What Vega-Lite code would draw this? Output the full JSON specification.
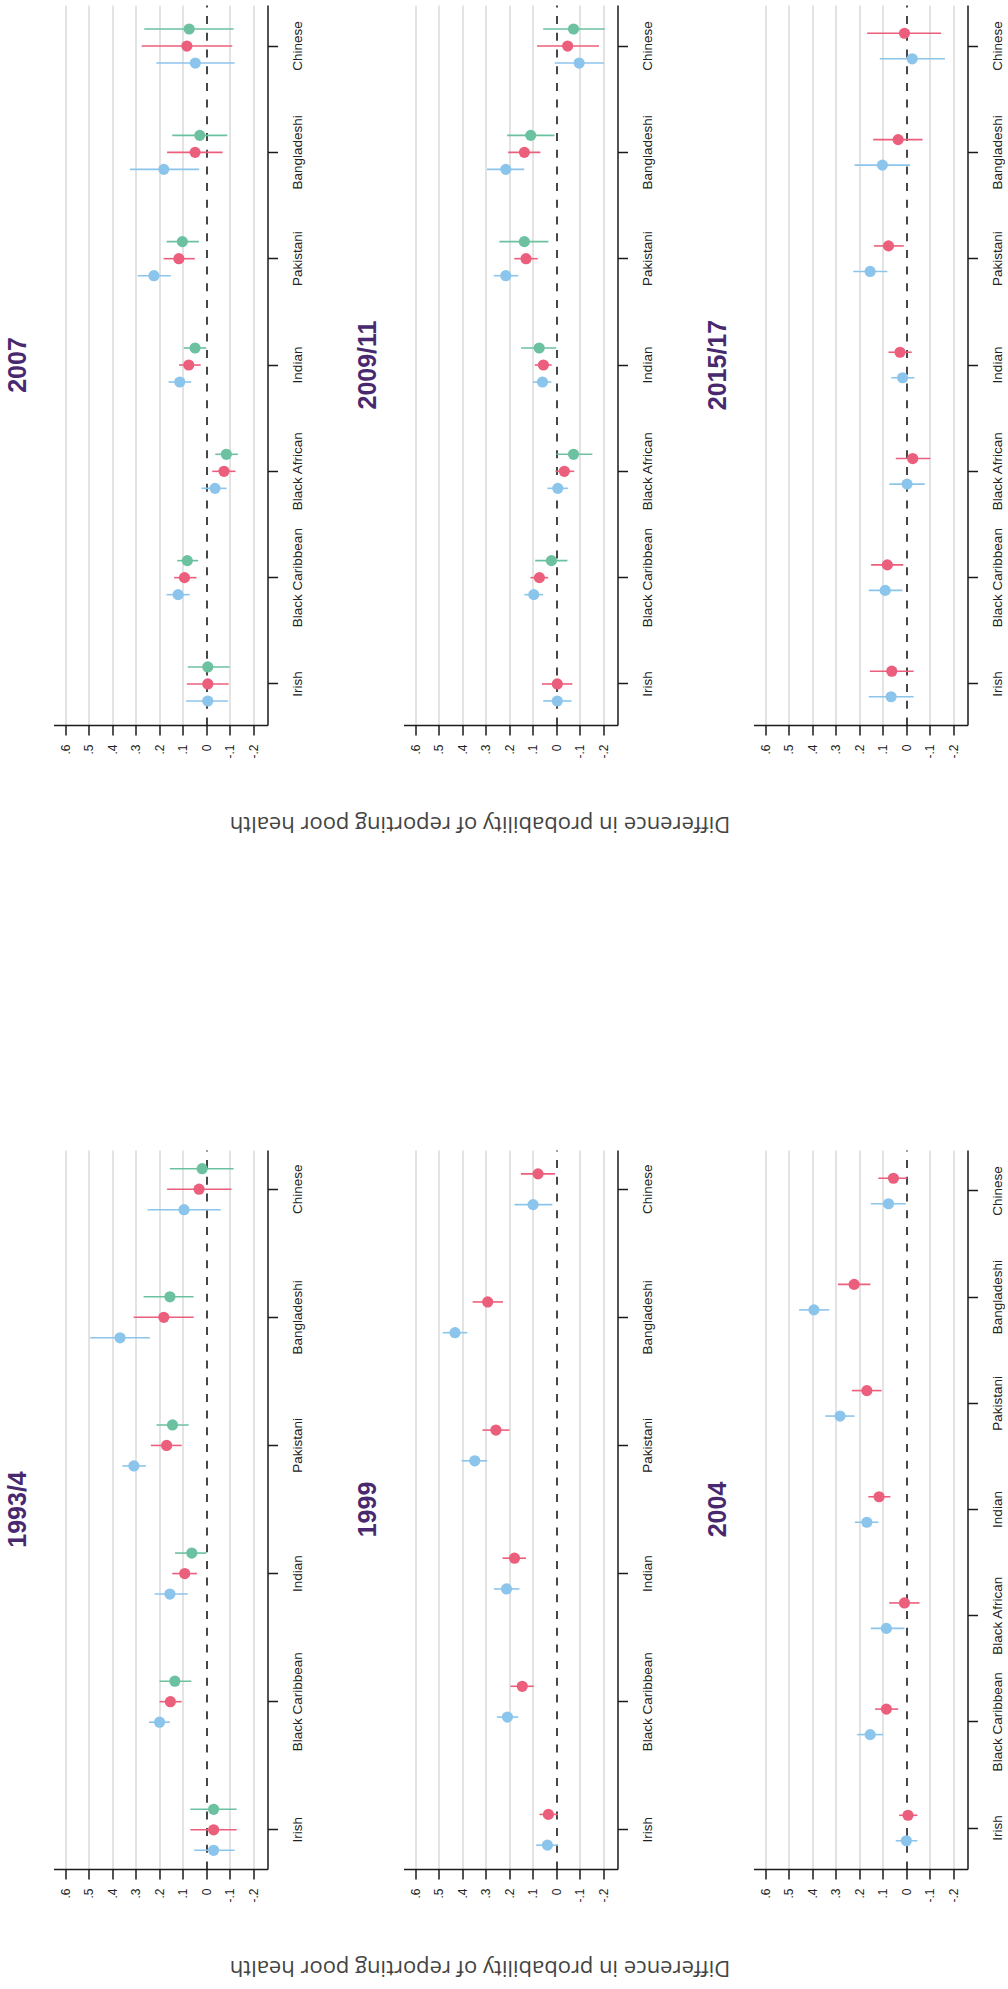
{
  "$schema": "https://vega.github.io/schema/vega-lite/v6.json",
  "padding": {"left": 5.5, "top": 5, "right": 0, "bottom": 9},
  "config": {
    "view": {"stroke": null},
    "font": "Liberation Sans",
    "axis": {"domainColor": "#1a1a1a", "domainWidth": 1.5, "tickColor": "#1a1a1a", "tickWidth": 1.5, "tickSize": 10, "labelFont": "Liberation Sans", "labelColor": "#222222"},
    "title": {"orient": "left", "anchor": "middle", "angle": 270, "baseline": "alphabetic", "offset": 22.5, "fontSize": 25, "fontWeight": "bold", "font": "Liberation Sans", "color": "#48296f"}
  },
  "datasets": {
    "est": [
      {"year": "1993/4", "group": "Chinese", "model": "Model 3", "est": 0.018, "lo": -0.116, "hi": 0.155},
      {"year": "1993/4", "group": "Chinese", "model": "Model 2", "est": 0.031, "lo": -0.107, "hi": 0.167},
      {"year": "1993/4", "group": "Chinese", "model": "Model 1", "est": 0.095, "lo": -0.061, "hi": 0.25},
      {"year": "1993/4", "group": "Bangladeshi", "model": "Model 3", "est": 0.155, "lo": 0.054, "hi": 0.267},
      {"year": "1993/4", "group": "Bangladeshi", "model": "Model 2", "est": 0.181, "lo": 0.054, "hi": 0.309},
      {"year": "1993/4", "group": "Bangladeshi", "model": "Model 1", "est": 0.367, "lo": 0.24, "hi": 0.494},
      {"year": "1993/4", "group": "Pakistani", "model": "Model 3", "est": 0.144, "lo": 0.075, "hi": 0.212},
      {"year": "1993/4", "group": "Pakistani", "model": "Model 2", "est": 0.169, "lo": 0.105, "hi": 0.236},
      {"year": "1993/4", "group": "Pakistani", "model": "Model 1", "est": 0.308, "lo": 0.257, "hi": 0.357},
      {"year": "1993/4", "group": "Indian", "model": "Model 3", "est": 0.062, "lo": 0.0, "hi": 0.133},
      {"year": "1993/4", "group": "Indian", "model": "Model 2", "est": 0.092, "lo": 0.04, "hi": 0.145},
      {"year": "1993/4", "group": "Indian", "model": "Model 1", "est": 0.155, "lo": 0.079, "hi": 0.22},
      {"year": "1993/4", "group": "Black Caribbean", "model": "Model 3", "est": 0.134, "lo": 0.064, "hi": 0.199},
      {"year": "1993/4", "group": "Black Caribbean", "model": "Model 2", "est": 0.153, "lo": 0.105, "hi": 0.199},
      {"year": "1993/4", "group": "Black Caribbean", "model": "Model 1", "est": 0.199, "lo": 0.155, "hi": 0.244},
      {"year": "1993/4", "group": "Irish", "model": "Model 3", "est": -0.031, "lo": -0.129, "hi": 0.068},
      {"year": "1993/4", "group": "Irish", "model": "Model 2", "est": -0.031, "lo": -0.129, "hi": 0.068},
      {"year": "1993/4", "group": "Irish", "model": "Model 1", "est": -0.031, "lo": -0.12, "hi": 0.052},

      {"year": "1999", "group": "Chinese", "model": "Model 2", "est": 0.078, "lo": 0.006, "hi": 0.151},
      {"year": "1999", "group": "Chinese", "model": "Model 1", "est": 0.099, "lo": 0.017, "hi": 0.178},
      {"year": "1999", "group": "Bangladeshi", "model": "Model 2", "est": 0.292, "lo": 0.227, "hi": 0.356},
      {"year": "1999", "group": "Bangladeshi", "model": "Model 1", "est": 0.431, "lo": 0.379, "hi": 0.483},
      {"year": "1999", "group": "Pakistani", "model": "Model 2", "est": 0.257, "lo": 0.199, "hi": 0.314},
      {"year": "1999", "group": "Pakistani", "model": "Model 1", "est": 0.347, "lo": 0.294, "hi": 0.403},
      {"year": "1999", "group": "Indian", "model": "Model 2", "est": 0.178, "lo": 0.129, "hi": 0.229},
      {"year": "1999", "group": "Indian", "model": "Model 1", "est": 0.212, "lo": 0.157, "hi": 0.266},
      {"year": "1999", "group": "Black Caribbean", "model": "Model 2", "est": 0.145, "lo": 0.096, "hi": 0.195},
      {"year": "1999", "group": "Black Caribbean", "model": "Model 1", "est": 0.208, "lo": 0.162, "hi": 0.253},
      {"year": "1999", "group": "Irish", "model": "Model 2", "est": 0.034, "lo": -0.007, "hi": 0.072},
      {"year": "1999", "group": "Irish", "model": "Model 1", "est": 0.038, "lo": -0.007, "hi": 0.086},

      {"year": "2004", "group": "Chinese", "model": "Model 2", "est": 0.055, "lo": -0.004, "hi": 0.119},
      {"year": "2004", "group": "Chinese", "model": "Model 1", "est": 0.076, "lo": 0.003, "hi": 0.151},
      {"year": "2004", "group": "Bangladeshi", "model": "Model 2", "est": 0.222, "lo": 0.153, "hi": 0.291},
      {"year": "2004", "group": "Bangladeshi", "model": "Model 1", "est": 0.393, "lo": 0.328, "hi": 0.456},
      {"year": "2004", "group": "Pakistani", "model": "Model 2", "est": 0.168, "lo": 0.105, "hi": 0.232},
      {"year": "2004", "group": "Pakistani", "model": "Model 1", "est": 0.282, "lo": 0.22, "hi": 0.345},
      {"year": "2004", "group": "Indian", "model": "Model 2", "est": 0.116, "lo": 0.068, "hi": 0.162},
      {"year": "2004", "group": "Indian", "model": "Model 1", "est": 0.168, "lo": 0.119, "hi": 0.219},
      {"year": "2004", "group": "Black African", "model": "Model 2", "est": 0.008, "lo": -0.056, "hi": 0.073},
      {"year": "2004", "group": "Black African", "model": "Model 1", "est": 0.085, "lo": 0.008, "hi": 0.151},
      {"year": "2004", "group": "Black Caribbean", "model": "Model 2", "est": 0.085, "lo": 0.035, "hi": 0.133},
      {"year": "2004", "group": "Black Caribbean", "model": "Model 1", "est": 0.154, "lo": 0.099, "hi": 0.209},
      {"year": "2004", "group": "Irish", "model": "Model 2", "est": -0.007, "lo": -0.047, "hi": 0.031},
      {"year": "2004", "group": "Irish", "model": "Model 1", "est": 0.0, "lo": -0.047, "hi": 0.045},

      {"year": "2007", "group": "Chinese", "model": "Model 3", "est": 0.073, "lo": -0.116, "hi": 0.264},
      {"year": "2007", "group": "Chinese", "model": "Model 2", "est": 0.083, "lo": -0.11, "hi": 0.275},
      {"year": "2007", "group": "Chinese", "model": "Model 1", "est": 0.047, "lo": -0.12, "hi": 0.213},
      {"year": "2007", "group": "Bangladeshi", "model": "Model 3", "est": 0.028, "lo": -0.089, "hi": 0.145},
      {"year": "2007", "group": "Bangladeshi", "model": "Model 2", "est": 0.048, "lo": -0.069, "hi": 0.167},
      {"year": "2007", "group": "Bangladeshi", "model": "Model 1", "est": 0.181, "lo": 0.031, "hi": 0.325},
      {"year": "2007", "group": "Pakistani", "model": "Model 3", "est": 0.102, "lo": 0.032, "hi": 0.169},
      {"year": "2007", "group": "Pakistani", "model": "Model 2", "est": 0.117, "lo": 0.049, "hi": 0.182},
      {"year": "2007", "group": "Pakistani", "model": "Model 1", "est": 0.223, "lo": 0.151, "hi": 0.292},
      {"year": "2007", "group": "Indian", "model": "Model 3", "est": 0.048, "lo": 0.0, "hi": 0.096},
      {"year": "2007", "group": "Indian", "model": "Model 2", "est": 0.075, "lo": 0.024, "hi": 0.116},
      {"year": "2007", "group": "Indian", "model": "Model 1", "est": 0.113, "lo": 0.064, "hi": 0.161},
      {"year": "2007", "group": "Black African", "model": "Model 3", "est": -0.085, "lo": -0.134, "hi": -0.038},
      {"year": "2007", "group": "Black African", "model": "Model 2", "est": -0.075, "lo": -0.124, "hi": -0.025},
      {"year": "2007", "group": "Black African", "model": "Model 1", "est": -0.037, "lo": -0.086, "hi": 0.021},
      {"year": "2007", "group": "Black Caribbean", "model": "Model 3", "est": 0.081, "lo": 0.035, "hi": 0.124},
      {"year": "2007", "group": "Black Caribbean", "model": "Model 2", "est": 0.093, "lo": 0.042, "hi": 0.137},
      {"year": "2007", "group": "Black Caribbean", "model": "Model 1", "est": 0.12, "lo": 0.071, "hi": 0.169},
      {"year": "2007", "group": "Irish", "model": "Model 3", "est": -0.006, "lo": -0.099, "hi": 0.079},
      {"year": "2007", "group": "Irish", "model": "Model 2", "est": -0.006, "lo": -0.095, "hi": 0.083},
      {"year": "2007", "group": "Irish", "model": "Model 1", "est": -0.006, "lo": -0.092, "hi": 0.086},

      {"year": "2009/11", "group": "Chinese", "model": "Model 3", "est": -0.073, "lo": -0.206, "hi": 0.056},
      {"year": "2009/11", "group": "Chinese", "model": "Model 2", "est": -0.048, "lo": -0.181, "hi": 0.082},
      {"year": "2009/11", "group": "Chinese", "model": "Model 1", "est": -0.097, "lo": -0.202, "hi": 0.007},
      {"year": "2009/11", "group": "Bangladeshi", "model": "Model 3", "est": 0.109, "lo": 0.008, "hi": 0.209},
      {"year": "2009/11", "group": "Bangladeshi", "model": "Model 2", "est": 0.136, "lo": 0.068, "hi": 0.205},
      {"year": "2009/11", "group": "Bangladeshi", "model": "Model 1", "est": 0.215, "lo": 0.137, "hi": 0.295},
      {"year": "2009/11", "group": "Pakistani", "model": "Model 3", "est": 0.136, "lo": 0.034, "hi": 0.242},
      {"year": "2009/11", "group": "Pakistani", "model": "Model 2", "est": 0.129, "lo": 0.079, "hi": 0.179},
      {"year": "2009/11", "group": "Pakistani", "model": "Model 1", "est": 0.215, "lo": 0.162, "hi": 0.266},
      {"year": "2009/11", "group": "Indian", "model": "Model 3", "est": 0.073, "lo": 0.0, "hi": 0.15},
      {"year": "2009/11", "group": "Indian", "model": "Model 2", "est": 0.055, "lo": 0.02, "hi": 0.092},
      {"year": "2009/11", "group": "Indian", "model": "Model 1", "est": 0.059, "lo": 0.021, "hi": 0.1},
      {"year": "2009/11", "group": "Black African", "model": "Model 3", "est": -0.073, "lo": -0.153, "hi": 0.0},
      {"year": "2009/11", "group": "Black African", "model": "Model 2", "est": -0.034, "lo": -0.076, "hi": 0.004},
      {"year": "2009/11", "group": "Black African", "model": "Model 1", "est": -0.006, "lo": -0.049, "hi": 0.038},
      {"year": "2009/11", "group": "Black Caribbean", "model": "Model 3", "est": 0.021, "lo": -0.047, "hi": 0.09},
      {"year": "2009/11", "group": "Black Caribbean", "model": "Model 2", "est": 0.072, "lo": 0.035, "hi": 0.11},
      {"year": "2009/11", "group": "Black Caribbean", "model": "Model 1", "est": 0.096, "lo": 0.056, "hi": 0.136},
      {"year": "2009/11", "group": "Irish", "model": "Model 2", "est": -0.004, "lo": -0.068, "hi": 0.061},
      {"year": "2009/11", "group": "Irish", "model": "Model 1", "est": -0.004, "lo": -0.064, "hi": 0.056},

      {"year": "2015/17", "group": "Chinese", "model": "Model 2", "est": 0.008, "lo": -0.148, "hi": 0.167},
      {"year": "2015/17", "group": "Chinese", "model": "Model 1", "est": -0.025, "lo": -0.164, "hi": 0.113},
      {"year": "2015/17", "group": "Bangladeshi", "model": "Model 2", "est": 0.035, "lo": -0.069, "hi": 0.141},
      {"year": "2015/17", "group": "Bangladeshi", "model": "Model 1", "est": 0.102, "lo": -0.016, "hi": 0.22},
      {"year": "2015/17", "group": "Pakistani", "model": "Model 2", "est": 0.076, "lo": 0.011, "hi": 0.138},
      {"year": "2015/17", "group": "Pakistani", "model": "Model 1", "est": 0.154, "lo": 0.081, "hi": 0.226},
      {"year": "2015/17", "group": "Indian", "model": "Model 2", "est": 0.027, "lo": -0.023, "hi": 0.076},
      {"year": "2015/17", "group": "Indian", "model": "Model 1", "est": 0.016, "lo": -0.034, "hi": 0.064},
      {"year": "2015/17", "group": "Black African", "model": "Model 2", "est": -0.027, "lo": -0.102, "hi": 0.045},
      {"year": "2015/17", "group": "Black African", "model": "Model 1", "est": -0.003, "lo": -0.078, "hi": 0.072},
      {"year": "2015/17", "group": "Black Caribbean", "model": "Model 2", "est": 0.081, "lo": 0.013, "hi": 0.15},
      {"year": "2015/17", "group": "Black Caribbean", "model": "Model 1", "est": 0.09, "lo": 0.017, "hi": 0.16},
      {"year": "2015/17", "group": "Irish", "model": "Model 2", "est": 0.062, "lo": -0.031, "hi": 0.155},
      {"year": "2015/17", "group": "Irish", "model": "Model 1", "est": 0.065, "lo": -0.031, "hi": 0.16}
    ]
  },
  "columns": 3,
  "bounds": "flush",
  "align": "all",
  "spacing": {"row": 425, "column": 136},
  "resolve": {"scale": {"yOffset": "independent", "color": "shared"}},
  "concat": [
    {
      "width": 214, "height": 720, "title": {"text": "2007"},
      "data": {"name": "est"}, "transform": [{"filter": "datum.year == '2007'"}],
      "encoding": {
        "y": {"field": "group", "type": "nominal", "sort": ["Chinese", "Bangladeshi", "Pakistani", "Indian", "Black African", "Black Caribbean", "Irish"], "scale": {"type": "band", "paddingInner": 0.52, "paddingOuter": 0.146},
          "axis": {"orient": "right", "title": null, "labelAngle": 270, "labelAlign": "center", "labelBaseline": "top", "labelPadding": 13, "labelFontSize": 13.5, "labelOverlap": false, "grid": false}},
        "yOffset": {"field": "model", "type": "nominal", "sort": "descending"},
        "color": {"field": "model", "type": "nominal", "scale": {"domain": ["Model 1", "Model 2", "Model 3"], "range": ["#8cc5ec", "#ec5f7c", "#6cc1a1"]}, "legend": null}
      },
      "layer": [
        {"mark": {"type": "rule", "strokeWidth": 1.6},
         "encoding": {"x": {"field": "lo", "type": "quantitative", "scale": {"domain": [-0.26, 0.65], "reverse": true, "nice": false, "zero": false},
           "axis": {"values": [-0.2, -0.1, 0, 0.1, 0.2, 0.3, 0.4, 0.5, 0.6], "labelExpr": "datum.value == 0 ? '0' : (datum.value < 0 ? '-.' : '.') + round(abs(datum.value) * 10)", "grid": true, "gridColor": {"condition": {"test": "datum.value === 0", "value": "#1a1a1a"}, "value": "#dcdcdc"}, "gridDash": {"condition": {"test": "datum.value === 0", "value": [8, 8.7]}, "value": []}, "gridWidth": 1.6, "labelAngle": 270, "labelPadding": 9, "labelFontSize": 12, "labelFlush": false, "labelOverlap": false,
             "title": "Difference in probability of reporting poor health", "titleAngle": 180, "titleBaseline": "bottom", "titleAlign": "center", "titleX": 426, "titleY": 86, "titleFont": "Open Sans", "titleFontSize": 22, "titleFontWeight": "normal", "titleColor": "#444444"}},
           "x2": {"field": "hi"}}},
        {"mark": {"type": "point", "filled": true, "size": 125, "opacity": 1},
         "encoding": {"x": {"field": "est", "type": "quantitative", "scale": {"domain": [-0.26, 0.65], "reverse": true, "nice": false, "zero": false},
           "axis": {"values": [-0.2, -0.1, 0, 0.1, 0.2, 0.3, 0.4, 0.5, 0.6], "labelExpr": "datum.value == 0 ? '0' : (datum.value < 0 ? '-.' : '.') + round(abs(datum.value) * 10)", "grid": true, "gridColor": {"condition": {"test": "datum.value === 0", "value": "#1a1a1a"}, "value": "#dcdcdc"}, "gridDash": {"condition": {"test": "datum.value === 0", "value": [8, 8.7]}, "value": []}, "gridWidth": 1.6, "labelAngle": 270, "labelPadding": 9, "labelFontSize": 12, "labelFlush": false, "labelOverlap": false,
             "title": "Difference in probability of reporting poor health", "titleAngle": 180, "titleBaseline": "bottom", "titleAlign": "center", "titleX": 426, "titleY": 86, "titleFont": "Open Sans", "titleFontSize": 22, "titleFontWeight": "normal", "titleColor": "#444444"}}}}
      ]
    },
    {
      "width": 214, "height": 720, "title": {"text": "2009/11"},
      "data": {"name": "est"}, "transform": [{"filter": "datum.year == '2009/11'"}],
      "encoding": {
        "y": {"field": "group", "type": "nominal", "sort": ["Chinese", "Bangladeshi", "Pakistani", "Indian", "Black African", "Black Caribbean", "Irish"], "scale": {"type": "band", "paddingInner": 0.52, "paddingOuter": 0.146},
          "axis": {"orient": "right", "title": null, "labelAngle": 270, "labelAlign": "center", "labelBaseline": "top", "labelPadding": 13, "labelFontSize": 13.5, "labelOverlap": false, "grid": false}},
        "yOffset": {"field": "model", "type": "nominal", "sort": "descending"},
        "color": {"field": "model", "type": "nominal", "legend": null}
      },
      "layer": [
        {"mark": {"type": "rule", "strokeWidth": 1.6},
         "encoding": {"x": {"field": "lo", "type": "quantitative", "scale": {"domain": [-0.26, 0.65], "reverse": true, "nice": false, "zero": false},
           "axis": {"values": [-0.2, -0.1, 0, 0.1, 0.2, 0.3, 0.4, 0.5, 0.6], "labelExpr": "datum.value == 0 ? '0' : (datum.value < 0 ? '-.' : '.') + round(abs(datum.value) * 10)", "grid": true, "gridColor": {"condition": {"test": "datum.value === 0", "value": "#1a1a1a"}, "value": "#dcdcdc"}, "gridDash": {"condition": {"test": "datum.value === 0", "value": [8, 8.7]}, "value": []}, "gridWidth": 1.6, "labelAngle": 270, "labelPadding": 9, "labelFontSize": 12, "labelFlush": false, "labelOverlap": false, "title": null}},
           "x2": {"field": "hi"}}},
        {"mark": {"type": "point", "filled": true, "size": 125, "opacity": 1},
         "encoding": {"x": {"field": "est", "type": "quantitative", "scale": {"domain": [-0.26, 0.65], "reverse": true, "nice": false, "zero": false},
           "axis": {"values": [-0.2, -0.1, 0, 0.1, 0.2, 0.3, 0.4, 0.5, 0.6], "labelExpr": "datum.value == 0 ? '0' : (datum.value < 0 ? '-.' : '.') + round(abs(datum.value) * 10)", "grid": true, "gridColor": {"condition": {"test": "datum.value === 0", "value": "#1a1a1a"}, "value": "#dcdcdc"}, "gridDash": {"condition": {"test": "datum.value === 0", "value": [8, 8.7]}, "value": []}, "gridWidth": 1.6, "labelAngle": 270, "labelPadding": 9, "labelFontSize": 12, "labelFlush": false, "labelOverlap": false, "title": null}}}}
      ]
    },
    {
      "width": 214, "height": 720, "title": {"text": "2015/17"},
      "data": {"name": "est"}, "transform": [{"filter": "datum.year == '2015/17'"}],
      "encoding": {
        "y": {"field": "group", "type": "nominal", "sort": ["Chinese", "Bangladeshi", "Pakistani", "Indian", "Black African", "Black Caribbean", "Irish"], "scale": {"type": "band", "paddingInner": 0.52, "paddingOuter": 0.146},
          "axis": {"orient": "right", "title": null, "labelAngle": 270, "labelAlign": "center", "labelBaseline": "top", "labelPadding": 13, "labelFontSize": 13.5, "labelOverlap": false, "grid": false}},
        "yOffset": {"field": "model", "type": "nominal", "sort": "descending"},
        "color": {"field": "model", "type": "nominal", "legend": null}
      },
      "layer": [
        {"mark": {"type": "rule", "strokeWidth": 1.6},
         "encoding": {"x": {"field": "lo", "type": "quantitative", "scale": {"domain": [-0.26, 0.65], "reverse": true, "nice": false, "zero": false},
           "axis": {"values": [-0.2, -0.1, 0, 0.1, 0.2, 0.3, 0.4, 0.5, 0.6], "labelExpr": "datum.value == 0 ? '0' : (datum.value < 0 ? '-.' : '.') + round(abs(datum.value) * 10)", "grid": true, "gridColor": {"condition": {"test": "datum.value === 0", "value": "#1a1a1a"}, "value": "#dcdcdc"}, "gridDash": {"condition": {"test": "datum.value === 0", "value": [8, 8.7]}, "value": []}, "gridWidth": 1.6, "labelAngle": 270, "labelPadding": 9, "labelFontSize": 12, "labelFlush": false, "labelOverlap": false, "title": null}},
           "x2": {"field": "hi"}}},
        {"mark": {"type": "point", "filled": true, "size": 125, "opacity": 1},
         "encoding": {"x": {"field": "est", "type": "quantitative", "scale": {"domain": [-0.26, 0.65], "reverse": true, "nice": false, "zero": false},
           "axis": {"values": [-0.2, -0.1, 0, 0.1, 0.2, 0.3, 0.4, 0.5, 0.6], "labelExpr": "datum.value == 0 ? '0' : (datum.value < 0 ? '-.' : '.') + round(abs(datum.value) * 10)", "grid": true, "gridColor": {"condition": {"test": "datum.value === 0", "value": "#1a1a1a"}, "value": "#dcdcdc"}, "gridDash": {"condition": {"test": "datum.value === 0", "value": [8, 8.7]}, "value": []}, "gridWidth": 1.6, "labelAngle": 270, "labelPadding": 9, "labelFontSize": 12, "labelFlush": false, "labelOverlap": false, "title": null}}}}
      ]
    },
    {
      "width": 214, "height": 719, "title": {"text": "1993/4"},
      "data": {"name": "est"}, "transform": [{"filter": "datum.year == '1993/4'"}],
      "encoding": {
        "y": {"field": "group", "type": "nominal", "sort": ["Chinese", "Bangladeshi", "Pakistani", "Indian", "Black African", "Black Caribbean", "Irish"], "scale": {"type": "band", "paddingInner": 0.52, "paddingOuter": 0.066},
          "axis": {"orient": "right", "title": null, "labelAngle": 270, "labelAlign": "center", "labelBaseline": "top", "labelPadding": 13, "labelFontSize": 13.5, "labelOverlap": false, "grid": false}},
        "yOffset": {"field": "model", "type": "nominal", "sort": "descending"},
        "color": {"field": "model", "type": "nominal", "legend": null}
      },
      "layer": [
        {"mark": {"type": "rule", "strokeWidth": 1.6},
         "encoding": {"x": {"field": "lo", "type": "quantitative", "scale": {"domain": [-0.26, 0.65], "reverse": true, "nice": false, "zero": false},
           "axis": {"values": [-0.2, -0.1, 0, 0.1, 0.2, 0.3, 0.4, 0.5, 0.6], "labelExpr": "datum.value == 0 ? '0' : (datum.value < 0 ? '-.' : '.') + round(abs(datum.value) * 10)", "grid": true, "gridColor": {"condition": {"test": "datum.value === 0", "value": "#1a1a1a"}, "value": "#dcdcdc"}, "gridDash": {"condition": {"test": "datum.value === 0", "value": [8, 8.7]}, "value": []}, "gridWidth": 1.6, "labelAngle": 270, "labelPadding": 9, "labelFontSize": 12, "labelFlush": false, "labelOverlap": false,
             "title": "Difference in probability of reporting poor health", "titleAngle": 180, "titleBaseline": "bottom", "titleAlign": "center", "titleX": 426, "titleY": 86, "titleFont": "Open Sans", "titleFontSize": 22, "titleFontWeight": "normal", "titleColor": "#444444"}},
           "x2": {"field": "hi"}}},
        {"mark": {"type": "point", "filled": true, "size": 125, "opacity": 1},
         "encoding": {"x": {"field": "est", "type": "quantitative", "scale": {"domain": [-0.26, 0.65], "reverse": true, "nice": false, "zero": false},
           "axis": {"values": [-0.2, -0.1, 0, 0.1, 0.2, 0.3, 0.4, 0.5, 0.6], "labelExpr": "datum.value == 0 ? '0' : (datum.value < 0 ? '-.' : '.') + round(abs(datum.value) * 10)", "grid": true, "gridColor": {"condition": {"test": "datum.value === 0", "value": "#1a1a1a"}, "value": "#dcdcdc"}, "gridDash": {"condition": {"test": "datum.value === 0", "value": [8, 8.7]}, "value": []}, "gridWidth": 1.6, "labelAngle": 270, "labelPadding": 9, "labelFontSize": 12, "labelFlush": false, "labelOverlap": false,
             "title": "Difference in probability of reporting poor health", "titleAngle": 180, "titleBaseline": "bottom", "titleAlign": "center", "titleX": 426, "titleY": 86, "titleFont": "Open Sans", "titleFontSize": 22, "titleFontWeight": "normal", "titleColor": "#444444"}}}}
      ]
    },
    {
      "width": 214, "height": 719, "title": {"text": "1999"},
      "data": {"name": "est"}, "transform": [{"filter": "datum.year == '1999'"}],
      "encoding": {
        "y": {"field": "group", "type": "nominal", "sort": ["Chinese", "Bangladeshi", "Pakistani", "Indian", "Black African", "Black Caribbean", "Irish"], "scale": {"type": "band", "paddingInner": 0.52, "paddingOuter": 0.066},
          "axis": {"orient": "right", "title": null, "labelAngle": 270, "labelAlign": "center", "labelBaseline": "top", "labelPadding": 13, "labelFontSize": 13.5, "labelOverlap": false, "grid": false}},
        "yOffset": {"field": "model", "type": "nominal", "sort": "descending"},
        "color": {"field": "model", "type": "nominal", "legend": null}
      },
      "layer": [
        {"mark": {"type": "rule", "strokeWidth": 1.6},
         "encoding": {"x": {"field": "lo", "type": "quantitative", "scale": {"domain": [-0.26, 0.65], "reverse": true, "nice": false, "zero": false},
           "axis": {"values": [-0.2, -0.1, 0, 0.1, 0.2, 0.3, 0.4, 0.5, 0.6], "labelExpr": "datum.value == 0 ? '0' : (datum.value < 0 ? '-.' : '.') + round(abs(datum.value) * 10)", "grid": true, "gridColor": {"condition": {"test": "datum.value === 0", "value": "#1a1a1a"}, "value": "#dcdcdc"}, "gridDash": {"condition": {"test": "datum.value === 0", "value": [8, 8.7]}, "value": []}, "gridWidth": 1.6, "labelAngle": 270, "labelPadding": 9, "labelFontSize": 12, "labelFlush": false, "labelOverlap": false, "title": null}},
           "x2": {"field": "hi"}}},
        {"mark": {"type": "point", "filled": true, "size": 125, "opacity": 1},
         "encoding": {"x": {"field": "est", "type": "quantitative", "scale": {"domain": [-0.26, 0.65], "reverse": true, "nice": false, "zero": false},
           "axis": {"values": [-0.2, -0.1, 0, 0.1, 0.2, 0.3, 0.4, 0.5, 0.6], "labelExpr": "datum.value == 0 ? '0' : (datum.value < 0 ? '-.' : '.') + round(abs(datum.value) * 10)", "grid": true, "gridColor": {"condition": {"test": "datum.value === 0", "value": "#1a1a1a"}, "value": "#dcdcdc"}, "gridDash": {"condition": {"test": "datum.value === 0", "value": [8, 8.7]}, "value": []}, "gridWidth": 1.6, "labelAngle": 270, "labelPadding": 9, "labelFontSize": 12, "labelFlush": false, "labelOverlap": false, "title": null}}}}
      ]
    },
    {
      "width": 214, "height": 719, "title": {"text": "2004"},
      "data": {"name": "est"}, "transform": [{"filter": "datum.year == '2004'"}],
      "encoding": {
        "y": {"field": "group", "type": "nominal", "sort": ["Chinese", "Bangladeshi", "Pakistani", "Indian", "Black African", "Black Caribbean", "Irish"], "scale": {"type": "band", "paddingInner": 0.52, "paddingOuter": 0.146},
          "axis": {"orient": "right", "title": null, "labelAngle": 270, "labelAlign": "center", "labelBaseline": "top", "labelPadding": 13, "labelFontSize": 13.5, "labelOverlap": false, "grid": false}},
        "yOffset": {"field": "model", "type": "nominal", "sort": "descending"},
        "color": {"field": "model", "type": "nominal", "legend": null}
      },
      "layer": [
        {"mark": {"type": "rule", "strokeWidth": 1.6},
         "encoding": {"x": {"field": "lo", "type": "quantitative", "scale": {"domain": [-0.26, 0.65], "reverse": true, "nice": false, "zero": false},
           "axis": {"values": [-0.2, -0.1, 0, 0.1, 0.2, 0.3, 0.4, 0.5, 0.6], "labelExpr": "datum.value == 0 ? '0' : (datum.value < 0 ? '-.' : '.') + round(abs(datum.value) * 10)", "grid": true, "gridColor": {"condition": {"test": "datum.value === 0", "value": "#1a1a1a"}, "value": "#dcdcdc"}, "gridDash": {"condition": {"test": "datum.value === 0", "value": [8, 8.7]}, "value": []}, "gridWidth": 1.6, "labelAngle": 270, "labelPadding": 9, "labelFontSize": 12, "labelFlush": false, "labelOverlap": false, "title": null}},
           "x2": {"field": "hi"}}},
        {"mark": {"type": "point", "filled": true, "size": 125, "opacity": 1},
         "encoding": {"x": {"field": "est", "type": "quantitative", "scale": {"domain": [-0.26, 0.65], "reverse": true, "nice": false, "zero": false},
           "axis": {"values": [-0.2, -0.1, 0, 0.1, 0.2, 0.3, 0.4, 0.5, 0.6], "labelExpr": "datum.value == 0 ? '0' : (datum.value < 0 ? '-.' : '.') + round(abs(datum.value) * 10)", "grid": true, "gridColor": {"condition": {"test": "datum.value === 0", "value": "#1a1a1a"}, "value": "#dcdcdc"}, "gridDash": {"condition": {"test": "datum.value === 0", "value": [8, 8.7]}, "value": []}, "gridWidth": 1.6, "labelAngle": 270, "labelPadding": 9, "labelFontSize": 12, "labelFlush": false, "labelOverlap": false, "title": null}}}}
      ]
    }
  ]
}
